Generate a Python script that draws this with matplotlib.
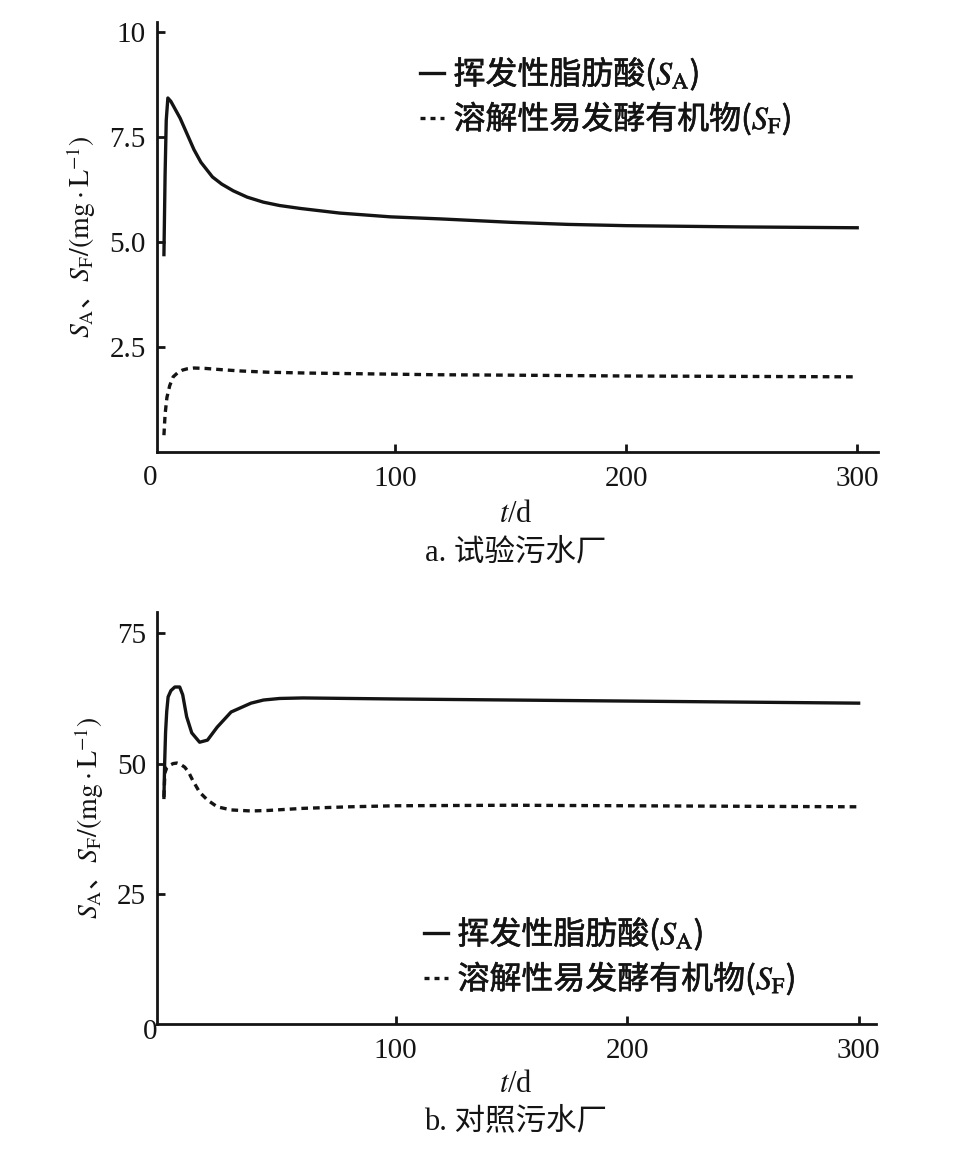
import matplotlib
matplotlib.use("Agg")
import matplotlib.pyplot as plt
import matplotlib.patheffects as pe
from matplotlib.lines import Line2D

plt.rcParams['mathtext.fontset'] = 'stix'
plt.rcParams['font.family'] = ['Liberation Serif', 'Noto Sans CJK SC']

# ---- data (panel a: 试验污水厂) ----
t_sa_a = [0, 0.5, 1, 1.7, 3, 5, 7, 9, 11, 13, 16, 21, 25, 30, 36, 43, 50, 59, 76, 98, 120, 150, 175, 200, 250, 300]
sa_a = [4.7, 6.6, 7.9, 8.43, 8.35, 8.15, 7.95, 7.7, 7.45, 7.2, 6.9, 6.55, 6.38, 6.22, 6.07, 5.95, 5.87, 5.8, 5.69, 5.6, 5.55, 5.47, 5.42, 5.39, 5.36, 5.34]
t_sf_a = [0, 0.5, 1.3, 2.5, 4, 6, 8, 10, 13, 18, 25, 33, 45, 62, 90, 118, 150, 200, 250, 300]
sf_a = [0.4, 0.9, 1.3, 1.58, 1.79, 1.89, 1.95, 1.98, 2.0, 1.99, 1.96, 1.93, 1.9, 1.88, 1.86, 1.84, 1.83, 1.81, 1.80, 1.79]

# ---- data (panel b: 对照污水厂) ----
t_sa_b = [0, 0.3, 0.7, 1.2, 1.8, 3, 4.7, 6.8, 8.1, 9.8, 12, 15.4, 18.8, 23, 29, 37.6, 43, 50, 60, 100, 150, 200, 250, 300]
sa_b = [43.5, 50, 56, 60, 62.8, 64.0, 64.7, 64.7, 63.2, 59, 55.9, 54.1, 54.5, 57, 59.9, 61.6, 62.2, 62.5, 62.6, 62.4, 62.2, 62.0, 61.8, 61.6]
t_sf_b = [0, 0.4, 1.2, 2.6, 4, 5.6, 7, 9, 10.7, 12.4, 15.4, 18.8, 23, 29, 37.6, 45, 60, 80, 100, 150, 200, 250, 300]
sf_b = [43.6, 48.2, 49.2, 49.7, 50.0, 50.1, 49.9, 49.3, 48.3, 46.8, 44.5, 43.0, 41.7, 41.1, 40.9, 41.0, 41.4, 41.7, 41.9, 42.0, 41.9, 41.8, 41.7]

xticks = [100, 200, 300]
yticks_a = [2.5, 5.0, 7.5, 10]
yticklabels_a = ['2.5', '5.0', '7.5', '10']
yticks_b = [25, 50, 75]
yticklabels_b = ['25', '50', '75']

label_sa = '挥发性脂肪酸($S_\\mathrm{A}$)'
label_sf = '溶解性易发酵有机物($S_\\mathrm{F}$)'
ylabel = '$S_\\mathrm{A}$、$S_\\mathrm{F}/(\\mathrm{mg\\cdot L}^{-1})$'
caption_a = 'a. 试验污水厂'
caption_b = 'b. 对照污水厂'

W, H = 975, 1162
fig = plt.figure(figsize=(W / 100, H / 100), dpi=100)
INK = '#141414'
LW = 2.4
DASH = (0, (2.0, 1.5))
STROKE = [pe.withStroke(linewidth=0.45, foreground=INK)]


def fx(px):
    return px / W


def fy(py):
    return 1 - py / H


def style_axes(ax, yt, ytl):
    for s in ['top', 'right']:
        ax.spines[s].set_visible(False)
    for s in ['left', 'bottom']:
        ax.spines[s].set_linewidth(2.0)
        ax.spines[s].set_color(INK)
    ax.set_xticks(xticks)
    ax.set_xticklabels([str(v) for v in xticks])
    ax.set_yticks(yt)
    ax.set_yticklabels(ytl)
    ax.tick_params(direction='in', length=6, width=2.0, color=INK,
                   labelsize=21, labelcolor=INK)
    ax.tick_params(axis='x', pad=10)
    ax.tick_params(axis='y', pad=8)
    ax.set_ylabel(ylabel, fontfamily='Noto Sans CJK SC', fontsize=20,
                  color=INK, labelpad=8)


def add_legend(ax, x, y):
    handles = [Line2D([], [], color=INK, lw=LW, linestyle='-'),
               Line2D([], [], color=INK, lw=LW, linestyle=(0, (1.5, 1.5)))]
    leg = ax.legend(handles, [label_sa, label_sf], loc='upper left',
                    bbox_to_anchor=(fx(x), fy(y)), bbox_transform=fig.transFigure,
                    frameon=False, handlelength=0.75, handletextpad=0.3,
                    labelspacing=0.22, borderpad=0, borderaxespad=0,
                    prop=dict(family='Noto Sans CJK SC', size=23))
    for t in leg.get_texts():
        t.set_color(INK)
        t.set_path_effects(STROKE)


# panel a
axa = fig.add_axes([fx(157), fy(452), fx(878) - fx(157), fy(22) - fy(452)])
axa.plot(t_sa_a, sa_a, color=INK, lw=LW, solid_joinstyle='round')
axa.plot(t_sf_a, sf_a, color=INK, lw=LW, linestyle=DASH)
axa.set_xlim(-3, 309)
axa.set_ylim(0, 10.24)
style_axes(axa, yticks_a, yticklabels_a)
add_legend(axa, 420, 55)
fig.text(fx(150), fy(478), '0', fontsize=21, ha='center', va='center', color=INK)
fig.text(fx(516), fy(514), '$t$/d', fontsize=22, ha='center', va='center', color=INK)
fig.text(fx(516), fy(553), caption_a, fontsize=22, ha='center', va='center', color=INK)

# panel b
axb = fig.add_axes([fx(157), fy(1024), fx(876) - fx(157), fy(612) - fy(1024)])
axb.plot(t_sa_b, sa_b, color=INK, lw=LW, solid_joinstyle='round')
axb.plot(t_sf_b, sf_b, color=INK, lw=LW, linestyle=DASH)
axb.set_xlim(-3, 307.5)
axb.set_ylim(0, 79.1)
style_axes(axb, yticks_b, yticklabels_b)
add_legend(axb, 424, 915)
fig.text(fx(150), fy(1032), '0', fontsize=21, ha='center', va='center', color=INK)
fig.text(fx(516), fy(1085), '$t$/d', fontsize=22, ha='center', va='center', color=INK)
fig.text(fx(516), fy(1122), caption_b, fontsize=22, ha='center', va='center', color=INK)

fig.savefig('out.png', dpi=100, facecolor='white')
